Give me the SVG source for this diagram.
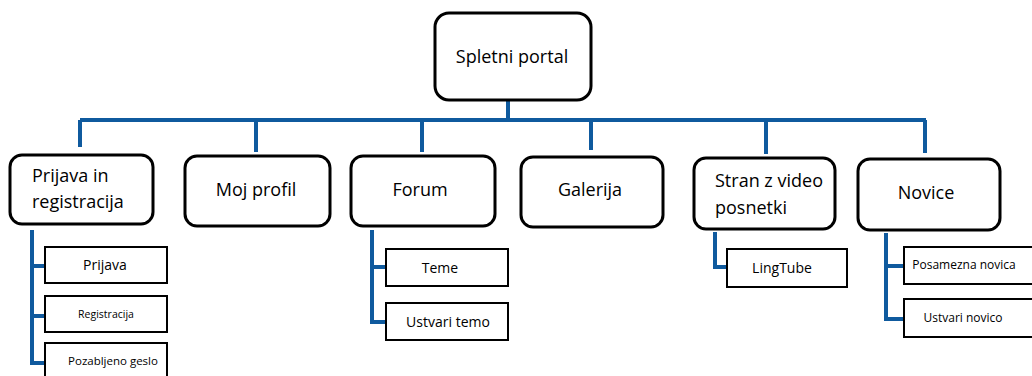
<svg xmlns="http://www.w3.org/2000/svg" width="1032" height="376" viewBox="0 0 1032 376">
<style>
.bg{fill:#fff}
.main{fill:#fff;stroke:#000;stroke-width:3}
.sub{fill:#fff;stroke:#000;stroke-width:2}
.t{font-family:"Open Sans","Noto Sans",sans-serif;fill:#000}
.l1{font-size:18px}
.c{text-anchor:middle}
.con{fill:none;stroke:#0F5A9E;stroke-width:4;stroke-linejoin:miter}
</style>
<rect class="bg" x="0" y="0" width="1032" height="376"/>
<g id="connectors">
<path class="con" d="M508 100V120M80 120H926M80 120V147M256 120V152M422 120V152M591 120V150M766 120V154M925 120V153"/>
<path class="con" d="M32 230V363H45M32 266H45M32 316H45"/>
<path class="con" d="M372 230V322H386M372 267H386"/>
<path class="con" d="M715 232V267H727"/>
<path class="con" d="M886 233V319H904M886 266H904"/>
</g>
<g id="root"><rect class="main" x="435" y="13" width="156" height="87" rx="14"/><text class="t l1 c" x="512" y="63">Spletni portal</text></g>
<g id="prijava-registracija"><rect class="main" x="10" y="155" width="143" height="69" rx="12"/><text class="t l1" x="32" y="182">Prijava in</text><text class="t l1" x="32" y="208">registracija</text></g>
<g id="moj-profil"><rect class="main" x="185" y="156" width="145" height="70" rx="12"/><text class="t l1 c" x="256" y="196">Moj profil</text></g>
<g id="forum"><rect class="main" x="351" y="156" width="144" height="70" rx="12"/><text class="t l1 c" x="420" y="196">Forum</text></g>
<g id="galerija"><rect class="main" x="521" y="157" width="142" height="70" rx="12"/><text class="t l1 c" x="590" y="196">Galerija</text></g>
<g id="stran-video"><rect class="main" x="694" y="158" width="141" height="71" rx="12"/><text class="t l1" x="715" y="187">Stran z video</text><text class="t l1" x="715" y="214">posnetki</text></g>
<g id="novice"><rect class="main" x="858" y="159" width="142" height="71" rx="12"/><text class="t l1 c" x="926" y="199">Novice</text></g>
<g id="prijava"><rect class="sub" x="45" y="247" width="122" height="36"/><text class="t c" style="font-size:14px" x="105" y="270">Prijava</text></g>
<g id="registracija"><rect class="sub" x="45" y="296" width="122" height="36"/><text class="t c" style="font-size:10.5px" x="106" y="318">Registracija</text></g>
<g id="pozabljeno-geslo"><rect class="sub" x="45" y="343" width="122" height="40"/><text class="t c" style="font-size:11.5px" x="113" y="365">Pozabljeno geslo</text></g>
<g id="teme"><rect class="sub" x="386" y="249" width="122" height="37"/><text class="t c" style="font-size:14px" x="440" y="273">Teme</text></g>
<g id="ustvari-temo"><rect class="sub" x="386" y="303" width="122" height="37"/><text class="t c" style="font-size:14px" x="448" y="327">Ustvari temo</text></g>
<g id="lingtube"><rect class="sub" x="727" y="249" width="120" height="38"/><text class="t c" style="font-size:14px" x="782" y="273">LingTube</text></g>
<g id="posamezna-novica"><rect class="sub" x="904" y="247" width="130" height="37"/><text class="t c" style="font-size:12px" x="964" y="269">Posamezna novica</text></g>
<g id="ustvari-novico"><rect class="sub" x="904" y="299" width="130" height="38"/><text class="t c" style="font-size:12px" x="963" y="322">Ustvari novico</text></g>
</svg>
